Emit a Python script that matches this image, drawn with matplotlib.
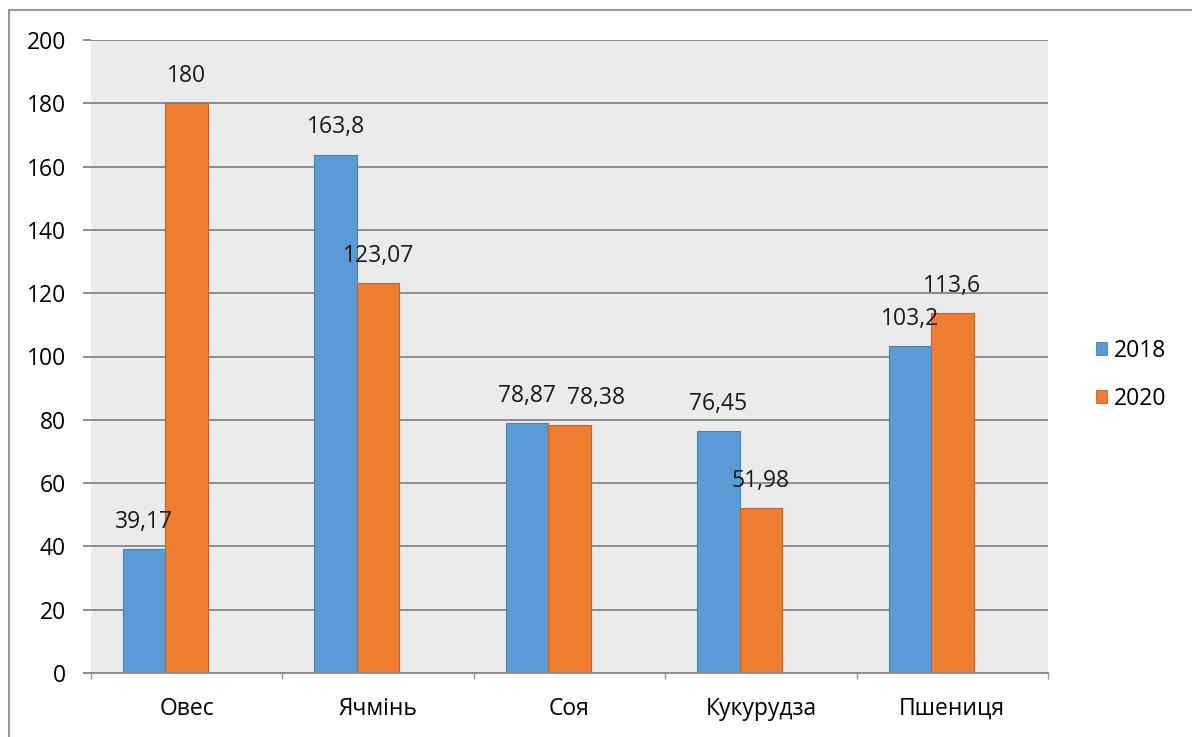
import numpy as np
import matplotlib
matplotlib.use('Agg')
import matplotlib.pyplot as plt
from matplotlib.lines import Line2D
from matplotlib.patches import Patch

# data
categories = ['Овес', 'Ячмінь', 'Соя', 'Кукурудза', 'Пшениця']
years = ['2018', '2020']
values_2018 = [39.17, 163.8, 78.87, 76.45, 103.2]
values_2020 = [180, 123.07, 78.38, 51.98, 113.6]
y_ticks = [0, 20, 40, 60, 80, 100, 120, 140, 160, 180, 200]

blue = '#5B9BD5'
orange = '#ED7D31'
fs = 16.5

# label nudges (x points) as in the original, where labels would collide
nudge_2018 = [0, 0, 0, 0, 0]
nudge_2020 = [0, 0, 19, 0, 0]

plt.rcParams['font.family'] = ['Open Sans', 'DejaVu Sans']

fig = plt.figure(figsize=(11.92, 7.37), dpi=100)
ax = fig.add_axes([91 / 1192, 1 - 673 / 737, (1048 - 91) / 1192, (673 - 40) / 737])
ax.set_facecolor('#EBEBEB')

x = np.arange(len(categories))
w = 0.222
bars1 = ax.bar(x - w, values_2018, w, color=blue, edgecolor='#4A80B4', linewidth=0.8, zorder=1)
bars2 = ax.bar(x, values_2020, w, color=orange, edgecolor='#C0652A', linewidth=0.8, zorder=1)

# data labels above the bars
def fmt(v):
    return ('%g' % v).replace('.', ',')

for bars, vals, nudge in [(bars1, values_2018, nudge_2018), (bars2, values_2020, nudge_2020)]:
    for b, v, dx in zip(bars, vals, nudge):
        ax.annotate(fmt(v), (b.get_x() + b.get_width() / 2, v), xytext=(dx, 19.5),
                    textcoords='offset points', ha='center', va='center',
                    fontsize=fs, color='#1a1a1a', zorder=3)

ax.set_xlim(-0.5, len(categories) - 0.5)
ax.set_ylim(0, 200)
ax.set_yticks(y_ticks)
ax.set_yticklabels([str(t) for t in y_ticks], fontsize=fs)
ax.yaxis.grid(True, color='#8C8C8C', linewidth=1.4)
ax.set_axisbelow(True)
ax.tick_params(axis='y', length=6, width=1.4, color='#8C8C8C', pad=12)

# category labels, ticks between categories
ax.set_xticks(x)
ax.set_xticklabels(categories, fontsize=fs)
ax.tick_params(axis='x', length=0, pad=17)
ax.set_xticks(np.arange(len(categories) + 1) - 0.5, minor=True)
ax.tick_params(axis='x', which='minor', length=4, width=1, color='#9A9A9A')

for s in ['left', 'right', 'top']:
    ax.spines[s].set_visible(False)
ax.spines['bottom'].set_color('#8C8C8C')
ax.spines['bottom'].set_linewidth(1.4)

handles = [Patch(facecolor=blue, edgecolor='#4A80B4', linewidth=0.6),
           Patch(facecolor=orange, edgecolor='#C0652A', linewidth=0.6)]
fig.legend(handles, years, loc='center left', bbox_to_anchor=(1075 / 1192, 1 - 375 / 737),
           frameon=False, fontsize=fs, handlelength=0.5, handleheight=0.5,
           handletextpad=0.3, labelspacing=1.05)

# frame of the scanned image
fig.add_artist(Line2D([10 / 1192, 1], [1 - 10 / 737, 1 - 10 / 737], color='#9A9A9A', linewidth=1.5))
fig.add_artist(Line2D([9 / 1192, 9 / 1192], [0, 1 - 10 / 737], color='#9A9A9A', linewidth=1.5))

fig.savefig('out.png', dpi=100)
